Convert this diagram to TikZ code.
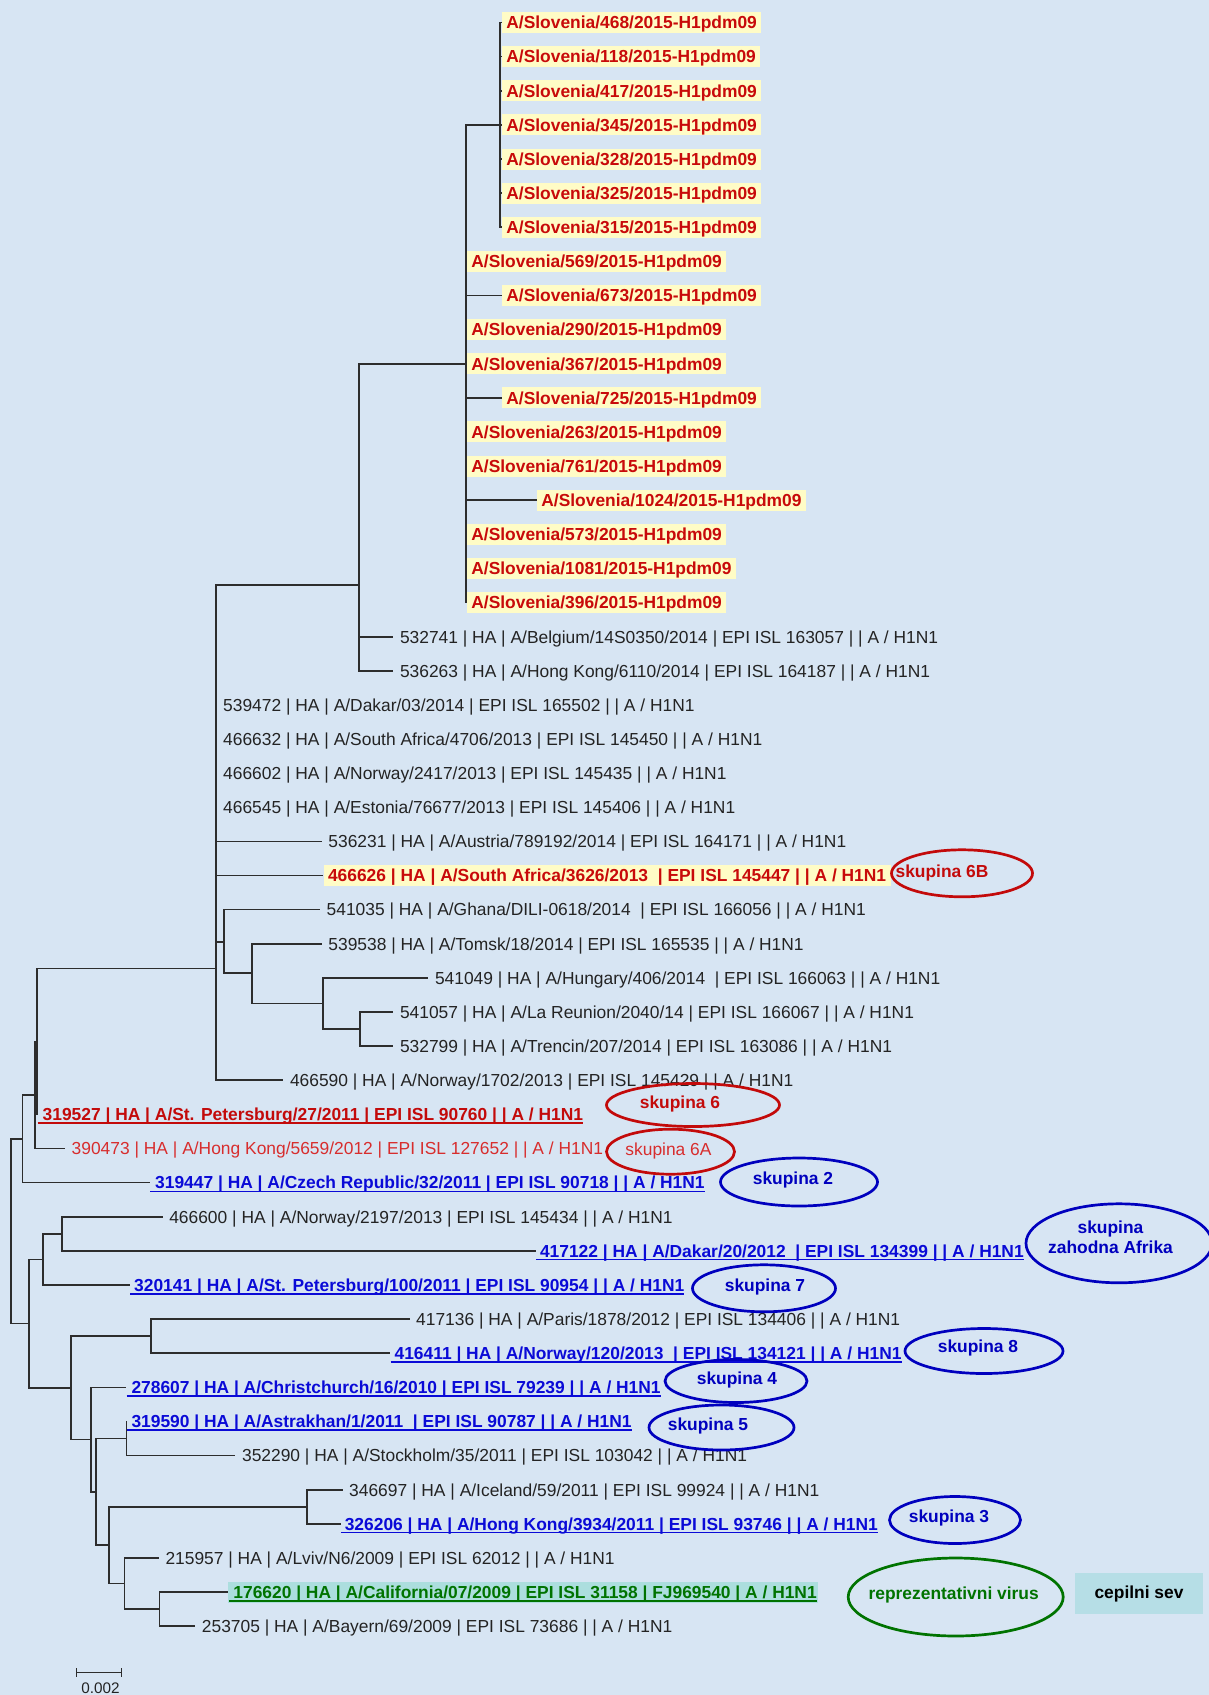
\documentclass[tikz,border=0pt]{standalone}
\usepackage{fontspec}
\setmainfont{Liberation Sans}
\usetikzlibrary{shapes.geometric}
\definecolor{bgblue}{RGB}{215,229,243}
\definecolor{hlyellow}{RGB}{255,252,198}
\definecolor{slored}{RGB}{200,10,10}
\definecolor{txtgray}{RGB}{35,35,35}
\definecolor{linegray}{RGB}{45,45,45}
\definecolor{ublue}{RGB}{10,10,215}
\definecolor{eblue}{RGB}{0,0,190}
\definecolor{ered}{RGB}{195,10,10}
\definecolor{lred}{RGB}{215,45,45}
\definecolor{ggreen}{RGB}{0,115,0}
\definecolor{tealbox}{RGB}{172,222,222}
\definecolor{cepbox}{RGB}{182,222,230}
\newcommand\lblf{\fontsize{17.4}{20}\selectfont}
\newcommand\lblbf{\fontsize{17.4}{20}\selectfont\bfseries}
\newcommand\ulx[1]{\setbox0\hbox{#1}\rlap{\rule[-3.2pt]{\wd0}{1.5pt}}\box0}
\begin{document}
\begin{tikzpicture}[x=1pt,y=-1pt,
  lab/.style={anchor=west, inner xsep=6.5pt, inner ysep=0pt, text height=12.6pt, text depth=0pt, font=\lblf, text=txtgray},
  hl/.style={anchor=west, inner xsep=4.5pt, inner ysep=4.2pt, text height=12.6pt, text depth=0pt, fill=hlyellow, font=\lblbf, text=slored},
  ulab/.style={anchor=west, inner xsep=0pt, inner ysep=0pt, text height=12.6pt, text depth=0pt, font=\lblbf, text=ublue},
  br/.style={draw=linegray, line width=1.6pt},
  grp/.style={ellipse, draw, line width=2.7pt, inner sep=0pt},
  grptxt/.style={font=\lblbf}]
\fill[bgblue] (0,0) rectangle (1209,1695);
\useasboundingbox (0,0) rectangle (1209,1695);

% ---- Slovenia labels
\node[hl] (l0) at (501.7,22.5) {A/Slovenia/468/2015-H1pdm09};
\node[hl] (l1) at (501.7,56.6) {A/Slovenia/118/2015-H1pdm09};
\node[hl] (l2) at (501.7,90.7) {A/Slovenia/417/2015-H1pdm09};
\node[hl] (l3) at (501.7,124.9) {A/Slovenia/345/2015-H1pdm09};
\node[hl] (l4) at (501.7,159.0) {A/Slovenia/328/2015-H1pdm09};
\node[hl] (l5) at (501.7,193.1) {A/Slovenia/325/2015-H1pdm09};
\node[hl] (l6) at (501.7,227.2) {A/Slovenia/315/2015-H1pdm09};
\node[hl] (l7) at (466.7,261.3) {A/Slovenia/569/2015-H1pdm09};
\node[hl] (l8) at (501.7,295.5) {A/Slovenia/673/2015-H1pdm09};
\node[hl] (l9) at (466.7,329.6) {A/Slovenia/290/2015-H1pdm09};
\node[hl] (l10) at (466.7,363.7) {A/Slovenia/367/2015-H1pdm09};
\node[hl] (l11) at (501.7,397.8) {A/Slovenia/725/2015-H1pdm09};
\node[hl] (l12) at (466.7,431.9) {A/Slovenia/263/2015-H1pdm09};
\node[hl] (l13) at (466.7,466.1) {A/Slovenia/761/2015-H1pdm09};
\node[hl] (l14) at (536.7,500.2) {A/Slovenia/1024/2015-H1pdm09};
\node[hl] (l15) at (466.7,534.3) {A/Slovenia/573/2015-H1pdm09};
\node[hl] (l16) at (466.7,568.4) {A/Slovenia/1081/2015-H1pdm09};
\node[hl] (l17) at (466.7,602.5) {A/Slovenia/396/2015-H1pdm09};

% ---- other labels
\node[lab] (l18) at (393.3,636.7) {532741 | HA | A/Belgium/14S0350/2014 | EPI ISL 163057 | | A / H1N1};
\node[lab] (l19) at (393.3,670.8) {536263 | HA | A/Hong Kong/6110/2014 | EPI ISL 164187 | | A / H1N1};
\node[lab] (l20) at (216.5,704.9) {539472 | HA | A/Dakar/03/2014 | EPI ISL 165502 | | A / H1N1};
\node[lab] (l21) at (216.5,739.0) {466632 | HA | A/South Africa/4706/2013 | EPI ISL 145450 | | A / H1N1};
\node[lab] (l22) at (216.5,773.1) {466602 | HA | A/Norway/2417/2013 | EPI ISL 145435 | | A / H1N1};
\node[lab] (l23) at (216.5,807.3) {466545 | HA | A/Estonia/76677/2013 | EPI ISL 145406 | | A / H1N1};
\node[lab] (l24) at (321.7,841.4) {536231 | HA | A/Austria/789192/2014 | EPI ISL 164171 | | A / H1N1};
\node[hl] (l25) at (323.3,875.5) {466626 | HA | A/South Africa/3626/2013~ | EPI ISL 145447 | | A / H1N1};
\node[lab] (l26) at (320,909.6) {541035 | HA | A/Ghana/DILI-0618/2014~ | EPI ISL 166056 | | A / H1N1};
\node[lab] (l27) at (321.7,943.7) {539538 | HA | A/Tomsk/18/2014 | EPI ISL 165535 | | A / H1N1};
\node[lab] (l28) at (428.3,977.9) {541049 | HA | A/Hungary/406/2014~ | EPI ISL 166063 | | A / H1N1};
\node[lab] (l29) at (393.3,1012.0) {541057 | HA | A/La Reunion/2040/14 | EPI ISL 166067 | | A / H1N1};
\node[lab] (l30) at (393.3,1046.1) {532799 | HA | A/Trencin/207/2014 | EPI ISL 163086 | | A / H1N1};
\node[lab] (l31) at (283.3,1080.2) {466590 | HA | A/Norway/1702/2013 | EPI ISL 145429 | | A / H1N1};
\node[ulab, text=ered] (l32) at (37.5,1114.3) {\ulx{\hspace{5pt}319527 | HA | A/St. Petersburg/27/2011 | EPI ISL 90760 | | A / H1N1}};
\node[lab, text=lred] (l33) at (65,1148.5) {390473 | HA | A/Hong Kong/5659/2012 | EPI ISL 127652 | | A / H1N1};
\node[ulab] (l34) at (150,1182.6) {\ulx{\hspace{5pt}319447 | HA | A/Czech Republic/32/2011 | EPI ISL 90718 | | A / H1N1}};
\node[lab] (l35) at (162.6,1216.7) {466600 | HA | A/Norway/2197/2013 | EPI ISL 145434 | | A / H1N1};
\node[ulab] (l36) at (535.8,1250.8) {\ulx{\hspace{4pt}417122 | HA | A/Dakar/20/2012~ | EPI ISL 134399 | | A / H1N1}};
\node[ulab] (l37) at (130,1285.0) {\ulx{\hspace{4pt}320141 | HA | A/St. Petersburg/100/2011 | EPI ISL 90954 | | A / H1N1}};
\node[lab] (l38) at (409.5,1319.1) {417136 | HA | A/Paris/1878/2012 | EPI ISL 134406 | | A / H1N1};
\node[ulab] (l39) at (390.4,1353.2) {\ulx{\hspace{4pt}416411 | HA | A/Norway/120/2013~ | EPI ISL 134121 | | A / H1N1}};
\node[ulab] (l40) at (126.3,1387.3) {\ulx{\hspace{5pt}278607 | HA | A/Christchurch/16/2010 | EPI ISL 79239 | | A / H1N1}};
\node[ulab] (l41) at (126.3,1421.4) {\ulx{\hspace{5pt}319590 | HA | A/Astrakhan/1/2011~ | EPI ISL 90787 | | A / H1N1}};
\node[lab] (l42) at (235.4,1455.6) {352290 | HA | A/Stockholm/35/2011 | EPI ISL 103042 | | A / H1N1};
\node[lab] (l43) at (342.5,1489.7) {346697 | HA | A/Iceland/59/2011 | EPI ISL 99924 | | A / H1N1};
\node[ulab] (l44) at (340.6,1523.8) {\ulx{\hspace{4pt}326206 | HA | A/Hong Kong/3934/2011 | EPI ISL 93746 | | A / H1N1}};
\node[lab] (l45) at (158.8,1557.9) {215957 | HA | A/Lviv/N6/2009 | EPI ISL 62012 | | A / H1N1};
\node[ulab, text=ggreen, fill=tealbox, inner xsep=1.5pt, inner ysep=4.2pt] (l46) at (227.7,1592.0) {\ulx{\hspace{4pt}176620 | HA | A/California/07/2009 | EPI ISL 31158 | FJ969540 | A / H1N1}};
\node[lab] (l47) at (195.2,1626.1) {253705 | HA | A/Bayern/69/2009 | EPI ISL 73686 | | A / H1N1};

% ---- internal nodes
\coordinate (S1) at (500,124.9);
\coordinate (S2) at (466,363.7);
\coordinate (S3) at (359,585);
\coordinate (T) at (216,968.3);
\coordinate (U) at (224,941.7);
\coordinate (V) at (252,972.7);
\coordinate (W) at (322.7,1003.6);
\coordinate (X) at (360,1029.1);
\coordinate (A) at (37,1041.3);
\coordinate (B) at (35,1094.9);
\coordinate (C) at (22.3,1138.7);
\coordinate (R) at (10.7,1231.2);
\coordinate (D) at (28.7,1323.6);
\coordinate (E) at (42.9,1259.4);
\coordinate (F) at (62,1233.8);
\coordinate (G) at (70.8,1387.9);
\coordinate (H) at (151.2,1336.2);
\coordinate (I) at (90.7,1439.6);
\coordinate (J) at (95.7,1491.8);
\coordinate (K) at (126.3,1438.5);
\coordinate (L) at (109,1545.1);
\coordinate (M) at (307,1506.8);
\coordinate (N) at (124.4,1583.5);
\coordinate (O) at (159.6,1609.1);

% ---- branches
\foreach \i in {0,...,6} \draw[br] (S1) |- (l\i.west);
\draw[br] (S2) |- (S1);
\foreach \i in {7,...,17} \draw[br] (S2) |- (l\i.west);
\draw[br] (S3) |- (S2);
\draw[br] (S3) |- (l18.west);
\draw[br] (S3) |- (l19.west);
\draw[br] (T) |- (S3);
\foreach \i in {20,...,25} \draw[br] (T) |- (l\i.west);
\draw[br] (T) |- (U);
\draw[br] (T) |- (l31.west);
\draw[br] (U) |- (l26.west);
\draw[br] (U) |- (V);
\draw[br] (V) |- (l27.west);
\draw[br] (V) |- (W);
\draw[br] (W) |- (l28.west);
\draw[br] (W) |- (X);
\draw[br] (X) |- (l29.west);
\draw[br] (X) |- (l30.west);
\draw[br] (A) |- (T);
\draw[br] (A) |- (l32.west);
\draw[br] (B) |- (A);
\draw[br] (B) |- (l33.west);
\draw[br] (C) |- (B);
\draw[br] (C) |- (l34.west);
\draw[br] (R) |- (C);
\draw[br] (R) |- (D);
\draw[br] (D) |- (E);
\draw[br] (D) |- (G);
\draw[br] (E) |- (F);
\draw[br] (E) |- (l37.west);
\draw[br] (F) |- (l35.west);
\draw[br] (F) |- (l36.west);
\draw[br] (G) |- (H);
\draw[br] (G) |- (I);
\draw[br] (H) |- (l38.west);
\draw[br] (H) |- (l39.west);
\draw[br] (I) |- (l40.west);
\draw[br] (I) |- (J);
\draw[br] (J) |- (K);
\draw[br] (J) |- (L);
\draw[br] (K) |- (l41.west);
\draw[br] (K) |- (l42.west);
\draw[br] (L) |- (M);
\draw[br] (L) |- (N);
\draw[br] (M) |- (l43.west);
\draw[br] (M) |- (l44.west);
\draw[br] (N) |- (l45.west);
\draw[br] (N) |- (O);
\draw[br] (O) |- (l46.west);
\draw[br] (O) |- (l47.west);

% ---- group ellipses
\node[grp, draw=ered, minimum width=141pt, minimum height=47pt,
  label={[grptxt, text=ered, xshift=-20pt]center:skupina 6B}] (g6b) at (962,873.3) {};
\node[grp, draw=ered, minimum width=173pt, minimum height=43pt,
  label={[grptxt, text=ered, xshift=-13pt, yshift=1pt]center:skupina 6}] (g6) at (693,1105) {};
\node[grp, draw=ered, minimum width=128pt, minimum height=45pt,
  label={[font=\lblf, text=lred, xshift=-2pt, yshift=0.7pt]center:skupina 6A}] (g6a) at (670.5,1151.7) {};
\node[grp, draw=eblue, minimum width=157pt, minimum height=48pt,
  label={[grptxt, text=eblue, xshift=-6pt, yshift=2pt]center:skupina 2}] (g2) at (799,1182) {};
\node[grp, draw=eblue, minimum width=186pt, minimum height=79pt,
  label={[grptxt, text=eblue, align=center, xshift=-8.5pt, yshift=5.8pt]center:skupina\\zahodna Afrika}] (gza) at (1119,1243.3) {};
\node[grp, draw=eblue, minimum width=143pt, minimum height=47pt,
  label={[grptxt, text=eblue, xshift=1pt, yshift=1pt]center:skupina 7}] (g7) at (764,1288.3) {};
\node[grp, draw=eblue, minimum width=158pt, minimum height=45pt,
  label={[grptxt, text=eblue, xshift=-6pt, yshift=3pt]center:skupina 8}] (g8) at (984,1351) {};
\node[grp, draw=eblue, minimum width=142pt, minimum height=43pt,
  label={[grptxt, text=eblue, xshift=1pt, yshift=1pt]center:skupina 4}] (g4) at (736,1381) {};
\node[grp, draw=eblue, minimum width=145pt, minimum height=45pt,
  label={[grptxt, text=eblue, xshift=-13.5pt, yshift=1.5pt]center:skupina 5}] (g5) at (721.5,1427.5) {};
\node[grp, draw=eblue, minimum width=131pt, minimum height=47pt,
  label={[grptxt, text=eblue, xshift=-6pt, yshift=2pt]center:skupina 3}] (g3) at (955,1520) {};
\node[grp, draw=ggreen, minimum width=215pt, minimum height=78pt,
  label={[grptxt, text=ggreen, xshift=-2pt, yshift=2pt]center:reprezentativni virus}] (grep) at (955.7,1597) {};
\node[fill=cepbox, minimum width=128pt, minimum height=41pt, inner sep=0pt, font=\lblbf, text=black] (cep) at (1139,1593.5) {cepilni sev};

% ---- scale bar
\coordinate (sb1) at (76.5,1672.7);
\coordinate (sb2) at (121.7,1672.7);
\draw[br, line width=1.3pt] (sb1) -- (sb2);
\draw[br, line width=1.3pt] ([yshift=4.5pt]sb1) -- ([yshift=-4.5pt]sb1);
\draw[br, line width=1.3pt] ([yshift=4.5pt]sb2) -- ([yshift=-4.5pt]sb2);
\node[font=\fontsize{15.3}{17}\selectfont, text=txtgray, inner sep=0pt] (sbl) at (100.5,1688) {0.002};
\end{tikzpicture}
\end{document}
